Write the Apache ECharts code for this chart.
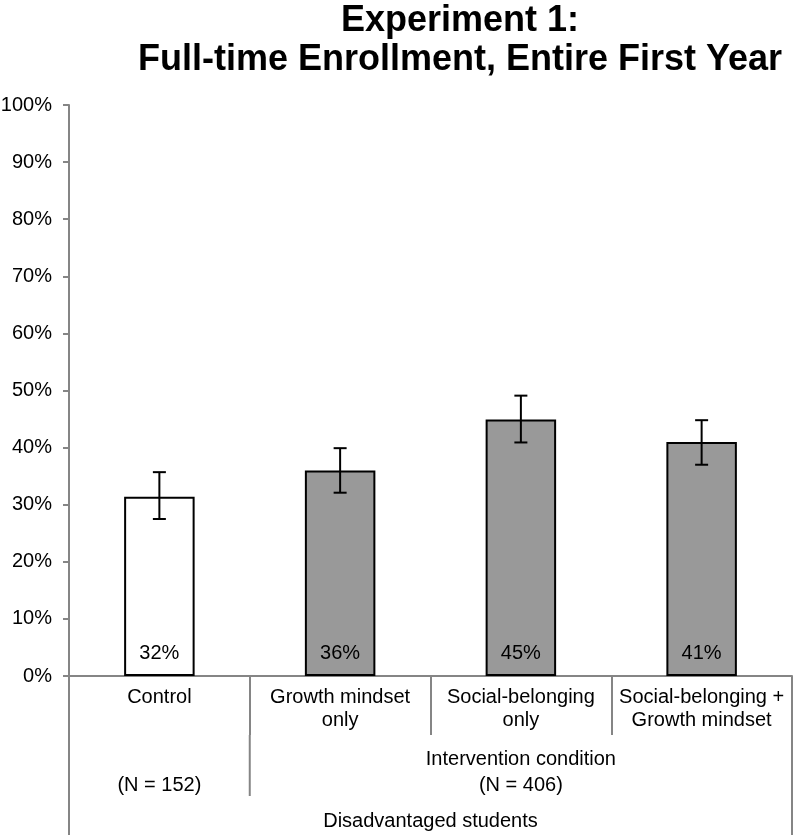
<!DOCTYPE html>
<html>
<head>
<meta charset="utf-8">
<script src="https://cdn.jsdelivr.net/npm/echarts@6/dist/echarts.min.js"></script>
<style>
html,body{margin:0;padding:0;background:#fff;}
#chart{width:796px;height:835px;}
</style>
</head>
<body>
<div id="chart"></div>
<script>
// ---- Data ----
const categories = ['Control', 'Growth mindset\nonly', 'Social-belonging\nonly', 'Social-belonging +\nGrowth mindset'];
const values = [31.4, 36.0, 44.9, 41.0];
const valueLabels = ['32%', '36%', '45%', '41%'];
const errLow = [27.5, 32.1, 40.9, 37.0];
const errHigh = [35.7, 39.9, 49.1, 44.8];
const groupLabels = ['(N = 152)', 'Intervention condition\n(N = 406)'];
const groupSpans = [[0, 0], [1, 3]];
const outerLabel = 'Disadvantaged students';
const titleLines = ['Experiment 1:', 'Full-time Enrollment, Entire First Year'];
const yTicks = [0, 10, 20, 30, 40, 50, 60, 70, 80, 90, 100];

// ---- Styles ----
const FONT = 'Liberation Sans, Arial, Helvetica, sans-serif';
const FS = 20;
const fillColors = ['#ffffff', '#999999', '#999999', '#999999'];
const AXIS_GRAY = '#858585';

const chart = echarts.init(document.getElementById('chart'), null, {renderer: 'canvas'});

const option = {
  animation: false,
  backgroundColor: '#ffffff',
  title: {
    text: titleLines.join('\n'),
    left: 455,
    top: -3,
    textAlign: 'center',
    textStyle: {fontFamily: FONT, fontSize: 36, fontWeight: 'bold', color: '#000', lineHeight: 39}
  },
  grid: {left: 69, right: 4, top: 105, bottom: 159, containLabel: false, outerBoundsMode: 'none'},
  xAxis: {
    type: 'category',
    data: categories,
    axisLine: {show: true, lineStyle: {color: AXIS_GRAY, width: 2}},
    axisTick: {show: true, alignWithLabel: false, length: 59, lineStyle: {color: AXIS_GRAY, width: 2}},
    axisLabel: {interval: 0, margin: 10, fontFamily: FONT, fontSize: FS, lineHeight: 23, color: '#000'},
    splitLine: {show: false}
  },
  yAxis: {
    type: 'value',
    min: yTicks[0],
    max: yTicks[yTicks.length - 1],
    interval: 10,
    axisLine: {show: true, lineStyle: {color: AXIS_GRAY, width: 2}},
    axisTick: {show: true, length: 6, lineStyle: {color: AXIS_GRAY, width: 2}},
    axisLabel: {formatter: '{value}%', margin: 17, fontFamily: FONT, fontSize: FS, color: '#000'},
    splitLine: {show: false}
  },
  series: [
    {
      type: 'bar',
      barWidth: '39%',
      data: values.map((v, i) => ({value: v, itemStyle: {color: fillColors[i]}})),
      itemStyle: {borderColor: '#000', borderWidth: 2},
      label: {
        show: true,
        position: 'insideBottom',
        distance: 13,
        fontFamily: FONT,
        fontSize: FS,
        color: '#000',
        formatter: p => valueLabels[p.dataIndex]
      },
      z: 2
    },
    {
      type: 'custom',
      data: categories.map((c, i) => [i, errLow[i], errHigh[i]]),
      renderItem: function (params, api) {
        const i = api.value(0);
        const lo = api.coord([i, api.value(1)]);
        const hi = api.coord([i, api.value(2)]);
        const half = 6.5;
        const style = {stroke: '#000', lineWidth: 2};
        return {
          type: 'group',
          children: [
            {type: 'line', shape: {x1: hi[0], y1: hi[1], x2: lo[0], y2: lo[1]}, style},
            {type: 'line', shape: {x1: hi[0] - half, y1: hi[1], x2: hi[0] + half, y2: hi[1]}, style},
            {type: 'line', shape: {x1: lo[0] - half, y1: lo[1], x2: lo[0] + half, y2: lo[1]}, style}
          ]
        };
      },
      z: 5
    }
  ]
};

chart.setOption(option);

// ---- Hierarchical axis decorations computed from the axis scale ----
function px(i) { return chart.convertToPixel({xAxisIndex: 0}, i); }
const bw = px(1) - px(0);
const boundary = k => px(0) - bw / 2 + k * bw; // boundary before category k
const y0 = chart.convertToPixel({yAxisIndex: 0}, 0);
const tickEnd = y0 + 59;
const groupEnd = y0 + 120;
const H = 835;
const lineStyle = {stroke: AXIS_GRAY, lineWidth: 2};
const graphics = [];
graphics.push({type: 'line', shape: {x1: boundary(0), y1: tickEnd, x2: boundary(0), y2: H}, style: lineStyle});
graphics.push({type: 'line', shape: {x1: boundary(categories.length), y1: tickEnd, x2: boundary(categories.length), y2: H}, style: lineStyle});
graphics.push({type: 'line', shape: {x1: boundary(1), y1: tickEnd, x2: boundary(1), y2: groupEnd}, style: lineStyle});
groupSpans.forEach((s, gi) => {
  const cx = (boundary(s[0]) + boundary(s[1] + 1)) / 2;
  graphics.push({
    type: 'text',
    style: {
      text: groupLabels[gi], x: cx, y: y0 + 122, textAlign: 'center', textVerticalAlign: 'bottom',
      font: FS + 'px ' + FONT, fill: '#000', lineHeight: 26
    }
  });
});
graphics.push({
  type: 'text',
  style: {
    text: outerLabel, x: (boundary(0) + boundary(categories.length)) / 2, y: y0 + 145,
    textAlign: 'center', textVerticalAlign: 'middle', font: FS + 'px ' + FONT, fill: '#000'
  }
});
chart.setOption({graphic: graphics});
</script>
</body>
</html>
